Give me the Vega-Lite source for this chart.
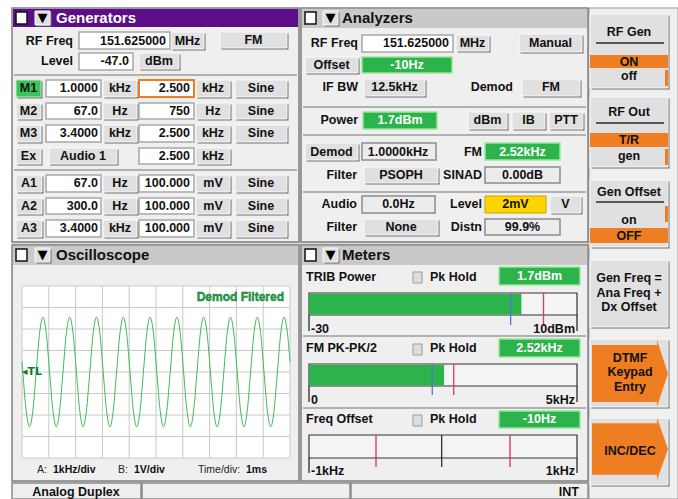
{
  "$schema": "https://vega.github.io/schema/vega-lite/v6.json",
  "width": 678,
  "height": 499,
  "padding": 0,
  "autosize": {"type": "none"},
  "background": "#ffffff",
  "config": {"view": {"stroke": null}, "text": {"font": "Liberation Sans"}},
  "datasets": {
    "boxes": [
      {"type": "back", "x": 12, "x2": 589, "y": 8, "y2": 499},
      {"type": "softbg", "x": 589, "x2": 678, "y": 8, "y2": 499},
      {"type": "panel", "x": 12, "x2": 299, "y": 8, "y2": 242},
      {"type": "panel", "x": 301, "x2": 588, "y": 8, "y2": 242},
      {"type": "panel", "x": 12, "x2": 299, "y": 245, "y2": 481},
      {"type": "panel", "x": 301, "x2": 588, "y": 245, "y2": 481},
      {"type": "hdr_purple", "x": 13, "x2": 298, "y": 9, "y2": 27},
      {"type": "hdr_gray", "x": 302, "x2": 587, "y": 9, "y2": 28},
      {"type": "hdr_gray", "x": 13, "x2": 298, "y": 246, "y2": 265},
      {"type": "hdr_gray", "x": 302, "x2": 587, "y": 246, "y2": 265},
      {"type": "scope", "x": 22, "x2": 290, "y": 286, "y2": 458},
      {"type": "status", "x": 12, "x2": 141, "y": 483, "y2": 499},
      {"type": "status", "x": 142, "x2": 350, "y": 483, "y2": 499},
      {"type": "status", "x": 351, "x2": 588, "y": 483, "y2": 499},
      {"type": "chk", "x": 16, "x2": 27, "y": 12, "y2": 24},
      {"type": "chk", "x": 305, "x2": 316, "y": 12, "y2": 24},
      {"type": "chk", "x": 16, "x2": 27, "y": 249, "y2": 261},
      {"type": "chk", "x": 305, "x2": 316, "y": 249, "y2": 261},
      {"type": "tribox", "x": 35, "x2": 50, "y": 11, "y2": 25},
      {"type": "tribox", "x": 323, "x2": 338, "y": 11, "y2": 25},
      {"type": "tribox", "x": 35, "x2": 50, "y": 248, "y2": 262},
      {"type": "tribox", "x": 323, "x2": 338, "y": 248, "y2": 262},
      {"type": "input", "x": 79, "x2": 170, "y": 32, "y2": 49},
      {"type": "input", "x": 79, "x2": 133, "y": 53, "y2": 70},
      {"type": "btn", "x": 171, "x2": 204, "y": 32, "y2": 49},
      {"type": "btn", "x": 220, "x2": 287, "y": 32, "y2": 48},
      {"type": "btn", "x": 139, "x2": 179, "y": 53, "y2": 69},
      {"type": "greenbtn", "x": 16, "x2": 41, "y": 80, "y2": 97},
      {"type": "input", "x": 46, "x2": 101, "y": 80, "y2": 97},
      {"type": "btn", "x": 103, "x2": 137, "y": 80, "y2": 97},
      {"type": "orange_in", "x": 139, "x2": 194, "y": 80, "y2": 97},
      {"type": "btn", "x": 196, "x2": 230, "y": 80, "y2": 97},
      {"type": "btn", "x": 235, "x2": 287, "y": 80, "y2": 97},
      {"type": "btn", "x": 16, "x2": 41, "y": 103, "y2": 119},
      {"type": "input", "x": 46, "x2": 101, "y": 103, "y2": 119},
      {"type": "btn", "x": 103, "x2": 137, "y": 103, "y2": 119},
      {"type": "input", "x": 139, "x2": 194, "y": 103, "y2": 119},
      {"type": "btn", "x": 196, "x2": 230, "y": 103, "y2": 119},
      {"type": "btn", "x": 235, "x2": 287, "y": 103, "y2": 119},
      {"type": "btn", "x": 16, "x2": 41, "y": 125, "y2": 142},
      {"type": "input", "x": 46, "x2": 101, "y": 125, "y2": 142},
      {"type": "btn", "x": 103, "x2": 137, "y": 125, "y2": 142},
      {"type": "input", "x": 139, "x2": 194, "y": 125, "y2": 142},
      {"type": "btn", "x": 196, "x2": 230, "y": 125, "y2": 142},
      {"type": "btn", "x": 235, "x2": 287, "y": 125, "y2": 142},
      {"type": "btn", "x": 16, "x2": 41, "y": 148, "y2": 164},
      {"type": "btn", "x": 49, "x2": 117, "y": 148, "y2": 164},
      {"type": "input", "x": 139, "x2": 194, "y": 148, "y2": 164},
      {"type": "btn", "x": 196, "x2": 230, "y": 148, "y2": 164},
      {"type": "btn", "x": 16, "x2": 42, "y": 175, "y2": 192},
      {"type": "input", "x": 46, "x2": 101, "y": 175, "y2": 192},
      {"type": "btn", "x": 103, "x2": 137, "y": 175, "y2": 192},
      {"type": "input", "x": 139, "x2": 194, "y": 175, "y2": 192},
      {"type": "btn", "x": 196, "x2": 230, "y": 175, "y2": 192},
      {"type": "btn", "x": 235, "x2": 287, "y": 175, "y2": 192},
      {"type": "btn", "x": 16, "x2": 42, "y": 198, "y2": 214},
      {"type": "input", "x": 46, "x2": 101, "y": 198, "y2": 214},
      {"type": "btn", "x": 103, "x2": 137, "y": 198, "y2": 214},
      {"type": "input", "x": 139, "x2": 194, "y": 198, "y2": 214},
      {"type": "btn", "x": 196, "x2": 230, "y": 198, "y2": 214},
      {"type": "btn", "x": 235, "x2": 287, "y": 198, "y2": 214},
      {"type": "btn", "x": 16, "x2": 42, "y": 220, "y2": 237},
      {"type": "input", "x": 46, "x2": 101, "y": 220, "y2": 237},
      {"type": "btn", "x": 103, "x2": 137, "y": 220, "y2": 237},
      {"type": "input", "x": 139, "x2": 194, "y": 220, "y2": 237},
      {"type": "btn", "x": 196, "x2": 230, "y": 220, "y2": 237},
      {"type": "btn", "x": 235, "x2": 287, "y": 220, "y2": 237},
      {"type": "input", "x": 362, "x2": 453, "y": 35, "y2": 52},
      {"type": "btn", "x": 456, "x2": 489, "y": 35, "y2": 51},
      {"type": "btn", "x": 519, "x2": 582, "y": 34, "y2": 52},
      {"type": "btn", "x": 305, "x2": 358, "y": 57, "y2": 73},
      {"type": "green", "x": 362, "x2": 452, "y": 57, "y2": 73},
      {"type": "btn", "x": 364, "x2": 425, "y": 79, "y2": 96},
      {"type": "btn", "x": 522, "x2": 580, "y": 79, "y2": 96},
      {"type": "green", "x": 363, "x2": 437, "y": 112, "y2": 129},
      {"type": "btn", "x": 468, "x2": 507, "y": 112, "y2": 129},
      {"type": "btn", "x": 512, "x2": 545, "y": 112, "y2": 129},
      {"type": "btn", "x": 549, "x2": 583, "y": 112, "y2": 129},
      {"type": "btn", "x": 305, "x2": 358, "y": 143, "y2": 160},
      {"type": "display", "x": 362, "x2": 436, "y": 143, "y2": 160},
      {"type": "green", "x": 485, "x2": 560, "y": 143, "y2": 160},
      {"type": "btn", "x": 364, "x2": 438, "y": 167, "y2": 183},
      {"type": "display", "x": 485, "x2": 560, "y": 167, "y2": 183},
      {"type": "display", "x": 362, "x2": 435, "y": 196, "y2": 213},
      {"type": "yellow", "x": 485, "x2": 546, "y": 196, "y2": 213},
      {"type": "btn", "x": 550, "x2": 581, "y": 196, "y2": 213},
      {"type": "btn", "x": 364, "x2": 438, "y": 219, "y2": 235},
      {"type": "display", "x": 485, "x2": 560, "y": 219, "y2": 235},
      {"type": "green", "x": 499, "x2": 580, "y": 267, "y2": 285},
      {"type": "green", "x": 499, "x2": 580, "y": 339, "y2": 357},
      {"type": "green", "x": 499, "x2": 580, "y": 411, "y2": 428},
      {"type": "pk", "x": 413, "x2": 422, "y": 272, "y2": 283},
      {"type": "pk", "x": 413, "x2": 422, "y": 344, "y2": 355},
      {"type": "pk", "x": 413, "x2": 422, "y": 415, "y2": 426},
      {"type": "meterbox", "x": 309, "x2": 577, "y": 293, "y2": 315},
      {"type": "meterbox", "x": 309, "x2": 577, "y": 364, "y2": 386},
      {"type": "meterbox", "x": 309, "x2": 577, "y": 435, "y2": 458},
      {"type": "skey", "x": 590, "x2": 668, "y": 14, "y2": 88},
      {"type": "skey", "x": 590, "x2": 668, "y": 97, "y2": 167},
      {"type": "skey", "x": 590, "x2": 668, "y": 180, "y2": 247},
      {"type": "skey", "x": 590, "x2": 668, "y": 260, "y2": 327},
      {"type": "skey", "x": 590, "x2": 668, "y": 339, "y2": 407},
      {"type": "skey", "x": 590, "x2": 668, "y": 418, "y2": 485},
      {"type": "band", "x": 590, "x2": 668, "y": 55, "y2": 68},
      {"type": "band", "x": 590, "x2": 668, "y": 133, "y2": 147},
      {"type": "band", "x": 590, "x2": 668, "y": 228, "y2": 243},
      {"type": "band", "x": 665, "x2": 668, "y": 70, "y2": 86},
      {"type": "band", "x": 665, "x2": 668, "y": 149, "y2": 165},
      {"type": "band", "x": 665, "x2": 668, "y": 206, "y2": 222}
    ],
    "arrows": [
      {"id": "dtmf", "x": 630, "y": 373.5},
      {"id": "inc", "x": 630, "y": 449}
    ],
    "rules": [
      {"type": "sep", "x": 14, "x2": 297, "y": 75, "y2": 75},
      {"type": "sep", "x": 14, "x2": 297, "y": 170, "y2": 170},
      {"type": "sep", "x": 303, "x2": 586, "y": 107, "y2": 107},
      {"type": "sep", "x": 303, "x2": 586, "y": 135, "y2": 135},
      {"type": "sep", "x": 303, "x2": 586, "y": 192, "y2": 192},
      {"type": "sep", "x": 303, "x2": 586, "y": 336, "y2": 336},
      {"type": "sep", "x": 303, "x2": 586, "y": 408, "y2": 408},
      {"type": "dark", "x": 596, "x2": 664, "y": 43, "y2": 43},
      {"type": "dark", "x": 596, "x2": 664, "y": 123, "y2": 123},
      {"type": "dark", "x": 596, "x2": 664, "y": 202, "y2": 202},
      {"type": "dark", "x": 309, "x2": 309, "y": 315, "y2": 331},
      {"type": "dark", "x": 577, "x2": 577, "y": 315, "y2": 331},
      {"type": "dark", "x": 309, "x2": 309, "y": 386, "y2": 402},
      {"type": "dark", "x": 577, "x2": 577, "y": 386, "y2": 402},
      {"type": "dark", "x": 309, "x2": 309, "y": 458, "y2": 473},
      {"type": "dark", "x": 577, "x2": 577, "y": 458, "y2": 473}
    ],
    "texts": [
      {"role": "title_w", "x": 56, "y": 18, "text": "Generators"},
      {"role": "title", "x": 342, "y": 18, "text": "Analyzers"},
      {"role": "title", "x": 56, "y": 255, "text": "Oscilloscope"},
      {"role": "title", "x": 342, "y": 255, "text": "Meters"},
      {"role": "tri", "x": 42.5, "y": 18, "text": "▼"},
      {"role": "tri", "x": 330.5, "y": 18, "text": "▼"},
      {"role": "tri", "x": 42.5, "y": 255, "text": "▼"},
      {"role": "tri", "x": 330.5, "y": 255, "text": "▼"},
      {"role": "lbl", "x": 73, "y": 41, "text": "RF Freq"},
      {"role": "lbl", "x": 73, "y": 61, "text": "Level"},
      {"role": "val", "x": 166, "y": 41, "text": "151.625000"},
      {"role": "val", "x": 129, "y": 61, "text": "-47.0"},
      {"role": "val", "x": 98, "y": 88, "text": "1.0000"},
      {"role": "val", "x": 190, "y": 88, "text": "2.500"},
      {"role": "val", "x": 98, "y": 111, "text": "67.0"},
      {"role": "val", "x": 190, "y": 111, "text": "750"},
      {"role": "val", "x": 98, "y": 133, "text": "3.4000"},
      {"role": "val", "x": 190, "y": 133, "text": "2.500"},
      {"role": "val", "x": 190, "y": 156, "text": "2.500"},
      {"role": "val", "x": 98, "y": 183, "text": "67.0"},
      {"role": "val", "x": 190, "y": 183, "text": "100.000"},
      {"role": "val", "x": 98, "y": 206, "text": "300.0"},
      {"role": "val", "x": 190, "y": 206, "text": "100.000"},
      {"role": "val", "x": 98, "y": 228, "text": "3.4000"},
      {"role": "val", "x": 190, "y": 228, "text": "100.000"},
      {"role": "ctr", "x": 187.5, "y": 41, "text": "MHz"},
      {"role": "ctr", "x": 253.5, "y": 40, "text": "FM"},
      {"role": "ctr", "x": 159, "y": 61, "text": "dBm"},
      {"role": "ctr", "x": 28.5, "y": 88, "text": "M1"},
      {"role": "ctr", "x": 120, "y": 88, "text": "kHz"},
      {"role": "ctr", "x": 213, "y": 88, "text": "kHz"},
      {"role": "ctr", "x": 261, "y": 88, "text": "Sine"},
      {"role": "ctr", "x": 28.5, "y": 111, "text": "M2"},
      {"role": "ctr", "x": 120, "y": 111, "text": "Hz"},
      {"role": "ctr", "x": 213, "y": 111, "text": "Hz"},
      {"role": "ctr", "x": 261, "y": 111, "text": "Sine"},
      {"role": "ctr", "x": 28.5, "y": 133, "text": "M3"},
      {"role": "ctr", "x": 120, "y": 133, "text": "kHz"},
      {"role": "ctr", "x": 213, "y": 133, "text": "kHz"},
      {"role": "ctr", "x": 261, "y": 133, "text": "Sine"},
      {"role": "ctr", "x": 28.5, "y": 156, "text": "Ex"},
      {"role": "ctr", "x": 83, "y": 156, "text": "Audio 1"},
      {"role": "ctr", "x": 213, "y": 156, "text": "kHz"},
      {"role": "ctr", "x": 29, "y": 183, "text": "A1"},
      {"role": "ctr", "x": 120, "y": 183, "text": "Hz"},
      {"role": "ctr", "x": 213, "y": 183, "text": "mV"},
      {"role": "ctr", "x": 261, "y": 183, "text": "Sine"},
      {"role": "ctr", "x": 29, "y": 206, "text": "A2"},
      {"role": "ctr", "x": 120, "y": 206, "text": "Hz"},
      {"role": "ctr", "x": 213, "y": 206, "text": "mV"},
      {"role": "ctr", "x": 261, "y": 206, "text": "Sine"},
      {"role": "ctr", "x": 29, "y": 228, "text": "A3"},
      {"role": "ctr", "x": 120, "y": 228, "text": "kHz"},
      {"role": "ctr", "x": 213, "y": 228, "text": "mV"},
      {"role": "ctr", "x": 261, "y": 228, "text": "Sine"},
      {"role": "lbl", "x": 358, "y": 43, "text": "RF Freq"},
      {"role": "lbl", "x": 358, "y": 87, "text": "IF BW"},
      {"role": "lbl", "x": 513, "y": 87, "text": "Demod"},
      {"role": "lbl", "x": 358, "y": 120, "text": "Power"},
      {"role": "lbl", "x": 482, "y": 152, "text": "FM"},
      {"role": "lbl", "x": 357, "y": 175, "text": "Filter"},
      {"role": "lbl", "x": 482, "y": 175, "text": "SINAD"},
      {"role": "lbl", "x": 357, "y": 204, "text": "Audio"},
      {"role": "lbl", "x": 482, "y": 204, "text": "Level"},
      {"role": "lbl", "x": 357, "y": 227, "text": "Filter"},
      {"role": "lbl", "x": 482, "y": 227, "text": "Distn"},
      {"role": "val", "x": 449, "y": 43, "text": "151.625000"},
      {"role": "ctr", "x": 472.5, "y": 43, "text": "MHz"},
      {"role": "ctr", "x": 550.5, "y": 43, "text": "Manual"},
      {"role": "ctr", "x": 331.5, "y": 65, "text": "Offset"},
      {"role": "ctr", "x": 394.5, "y": 87, "text": "12.5kHz"},
      {"role": "ctr", "x": 551, "y": 87, "text": "FM"},
      {"role": "ctr", "x": 487.5, "y": 120, "text": "dBm"},
      {"role": "ctr", "x": 528.5, "y": 120, "text": "IB"},
      {"role": "ctr", "x": 566, "y": 120, "text": "PTT"},
      {"role": "ctr", "x": 331.5, "y": 152, "text": "Demod"},
      {"role": "ctr", "x": 398, "y": 152, "text": "1.0000kHz"},
      {"role": "ctr", "x": 401, "y": 175, "text": "PSOPH"},
      {"role": "ctr", "x": 522.5, "y": 175, "text": "0.00dB"},
      {"role": "ctr", "x": 398.5, "y": 204, "text": "0.0Hz"},
      {"role": "ctr", "x": 515.5, "y": 204, "text": "2mV"},
      {"role": "ctr", "x": 565.5, "y": 204, "text": "V"},
      {"role": "ctr", "x": 401, "y": 227, "text": "None"},
      {"role": "ctr", "x": 522.5, "y": 227, "text": "99.9%"},
      {"role": "ctr_w", "x": 407, "y": 65, "text": "-10Hz"},
      {"role": "ctr_w", "x": 400, "y": 120, "text": "1.7dBm"},
      {"role": "ctr_w", "x": 522.5, "y": 152, "text": "2.52kHz"},
      {"role": "left", "x": 306, "y": 277, "text": "TRIB Power"},
      {"role": "left", "x": 430, "y": 277, "text": "Pk Hold"},
      {"role": "left", "x": 306, "y": 348, "text": "FM PK-PK/2"},
      {"role": "left", "x": 430, "y": 348, "text": "Pk Hold"},
      {"role": "left", "x": 306, "y": 419, "text": "Freq Offset"},
      {"role": "left", "x": 430, "y": 419, "text": "Pk Hold"},
      {"role": "left", "x": 311, "y": 329, "text": "-30"},
      {"role": "left", "x": 311, "y": 400, "text": "0"},
      {"role": "left", "x": 311, "y": 471, "text": "-1kHz"},
      {"role": "val", "x": 575, "y": 329, "text": "10dBm"},
      {"role": "val", "x": 575, "y": 400, "text": "5kHz"},
      {"role": "val", "x": 575, "y": 471, "text": "1kHz"},
      {"role": "ctr_w", "x": 539.5, "y": 276, "text": "1.7dBm"},
      {"role": "ctr_w", "x": 539.5, "y": 348, "text": "2.52kHz"},
      {"role": "ctr_w", "x": 539.5, "y": 419, "text": "-10Hz"},
      {"role": "demod", "x": 284, "y": 297, "text": "Demod Filtered"},
      {"role": "tl", "x": 22, "y": 372, "text": "◂TL"},
      {"role": "small", "x": 37, "y": 470, "text": "A:"},
      {"role": "small", "x": 118, "y": 470, "text": "B:"},
      {"role": "small", "x": 198, "y": 470, "text": "Time/div:"},
      {"role": "small_b", "x": 53, "y": 470, "text": "1kHz/div"},
      {"role": "small_b", "x": 134, "y": 470, "text": "1V/div"},
      {"role": "small_b", "x": 246, "y": 470, "text": "1ms"},
      {"role": "ctr", "x": 76, "y": 492, "text": "Analog Duplex"},
      {"role": "val", "x": 579, "y": 492, "text": "INT"},
      {"role": "soft", "x": 629, "y": 32, "text": "RF Gen"},
      {"role": "soft", "x": 629, "y": 61.5, "text": "ON"},
      {"role": "soft", "x": 629, "y": 76, "text": "off"},
      {"role": "soft", "x": 629, "y": 112, "text": "RF Out"},
      {"role": "soft", "x": 629, "y": 140, "text": "T/R"},
      {"role": "soft", "x": 629, "y": 156, "text": "gen"},
      {"role": "soft", "x": 629, "y": 192, "text": "Gen Offset"},
      {"role": "soft", "x": 629, "y": 220, "text": "on"},
      {"role": "soft", "x": 629, "y": 235.5, "text": "OFF"},
      {"role": "soft", "x": 629, "y": 278, "text": "Gen Freq ="},
      {"role": "soft", "x": 629, "y": 293, "text": "Ana Freq +"},
      {"role": "soft", "x": 629, "y": 307, "text": "Dx Offset"},
      {"role": "soft", "x": 630, "y": 358, "text": "DTMF"},
      {"role": "soft", "x": 630, "y": 372, "text": "Keypad"},
      {"role": "soft", "x": 630, "y": 387, "text": "Entry"},
      {"role": "soft", "x": 630, "y": 451, "text": "INC/DEC"}
    ],
    "wave": [
      {"t": 0, "v": 0.48},
      {"t": 0.03, "v": 0}, {"t": 0.155, "v": -1.8}, {"t": 0.28, "v": -2.55}, {"t": 0.405, "v": -1.8}, {"t": 0.53, "v": 0}, {"t": 0.655, "v": 1.8}, {"t": 0.78, "v": 2.55}, {"t": 0.905, "v": 1.8},
      {"t": 1.03, "v": 0}, {"t": 1.155, "v": -1.8}, {"t": 1.28, "v": -2.55}, {"t": 1.405, "v": -1.8}, {"t": 1.53, "v": 0}, {"t": 1.655, "v": 1.8}, {"t": 1.78, "v": 2.55}, {"t": 1.905, "v": 1.8},
      {"t": 2.03, "v": 0}, {"t": 2.155, "v": -1.8}, {"t": 2.28, "v": -2.55}, {"t": 2.405, "v": -1.8}, {"t": 2.53, "v": 0}, {"t": 2.655, "v": 1.8}, {"t": 2.78, "v": 2.55}, {"t": 2.905, "v": 1.8},
      {"t": 3.03, "v": 0}, {"t": 3.155, "v": -1.8}, {"t": 3.28, "v": -2.55}, {"t": 3.405, "v": -1.8}, {"t": 3.53, "v": 0}, {"t": 3.655, "v": 1.8}, {"t": 3.78, "v": 2.55}, {"t": 3.905, "v": 1.8},
      {"t": 4.03, "v": 0}, {"t": 4.155, "v": -1.8}, {"t": 4.28, "v": -2.55}, {"t": 4.405, "v": -1.8}, {"t": 4.53, "v": 0}, {"t": 4.655, "v": 1.8}, {"t": 4.78, "v": 2.55}, {"t": 4.905, "v": 1.8},
      {"t": 5.03, "v": 0}, {"t": 5.155, "v": -1.8}, {"t": 5.28, "v": -2.55}, {"t": 5.405, "v": -1.8}, {"t": 5.53, "v": 0}, {"t": 5.655, "v": 1.8}, {"t": 5.78, "v": 2.55}, {"t": 5.905, "v": 1.8},
      {"t": 6.03, "v": 0}, {"t": 6.155, "v": -1.8}, {"t": 6.28, "v": -2.55}, {"t": 6.405, "v": -1.8}, {"t": 6.53, "v": 0}, {"t": 6.655, "v": 1.8}, {"t": 6.78, "v": 2.55}, {"t": 6.905, "v": 1.8},
      {"t": 7.03, "v": 0}, {"t": 7.155, "v": -1.8}, {"t": 7.28, "v": -2.55}, {"t": 7.405, "v": -1.8}, {"t": 7.53, "v": 0}, {"t": 7.655, "v": 1.8}, {"t": 7.78, "v": 2.55}, {"t": 7.905, "v": 1.8},
      {"t": 8.03, "v": 0}, {"t": 8.155, "v": -1.8}, {"t": 8.28, "v": -2.55}, {"t": 8.405, "v": -1.8}, {"t": 8.53, "v": 0}, {"t": 8.655, "v": 1.8}, {"t": 8.78, "v": 2.55}, {"t": 8.905, "v": 1.8},
      {"t": 9.03, "v": 0}, {"t": 9.155, "v": -1.8}, {"t": 9.28, "v": -2.55}, {"t": 9.405, "v": -1.8}, {"t": 9.53, "v": 0}, {"t": 9.655, "v": 1.8}, {"t": 9.78, "v": 2.55}, {"t": 9.905, "v": 1.8},
      {"t": 10, "v": 0.48}
    ],
    "grid_t": [{"t": 0, "lo": -4, "hi": 4}, {"t": 1, "lo": -4, "hi": 4}, {"t": 2, "lo": -4, "hi": 4}, {"t": 3, "lo": -4, "hi": 4}, {"t": 4, "lo": -4, "hi": 4}, {"t": 5, "lo": -4, "hi": 4}, {"t": 6, "lo": -4, "hi": 4}, {"t": 7, "lo": -4, "hi": 4}, {"t": 8, "lo": -4, "hi": 4}, {"t": 9, "lo": -4, "hi": 4}, {"t": 10, "lo": -4, "hi": 4}],
    "grid_v": [{"v": -4, "t0": 0, "t1": 10}, {"v": -3, "t0": 0, "t1": 10}, {"v": -2, "t0": 0, "t1": 10}, {"v": -1, "t0": 0, "t1": 10}, {"v": 0, "t0": 0, "t1": 10}, {"v": 1, "t0": 0, "t1": 10}, {"v": 2, "t0": 0, "t1": 10}, {"v": 3, "t0": 0, "t1": 10}, {"v": 4, "t0": 0, "t1": 10}],
    "meters": [
      {"meter": "TRIB Power", "kind": "bar", "lo": -30, "v": 1.7},
      {"meter": "TRIB Power", "kind": "ref", "v": 0.1},
      {"meter": "TRIB Power", "kind": "limit", "v": 5},
      {"meter": "FM PK-PK/2", "kind": "bar", "lo": 0, "v": 2.52},
      {"meter": "FM PK-PK/2", "kind": "ref", "v": 2.3},
      {"meter": "FM PK-PK/2", "kind": "limit", "v": 2.7},
      {"meter": "Freq Offset", "kind": "limit", "v": -0.5},
      {"meter": "Freq Offset", "kind": "limit", "v": 0.5},
      {"meter": "Freq Offset", "kind": "ref0", "v": -0.01}
    ]
  },
  "resolve": {"scale": {"x": "independent", "y": "independent", "color": "independent", "shape": "independent"}},
  "layer": [
    {"data": {"name": "boxes"}, "transform": [{"filter": "datum.type === 'back'"}], "mark": {"type": "rect", "fill": "#d9d9d9"},
     "encoding": {"x": {"field": "x", "type": "quantitative", "scale": {"domain": [0, 678], "range": [0, 678], "nice": false, "zero": false}, "axis": null}, "x2": {"field": "x2"}, "y": {"field": "y", "type": "quantitative", "scale": {"domain": [0, 499], "range": [0, 499], "nice": false, "zero": false}, "axis": null}, "y2": {"field": "y2"}}},
    {"data": {"name": "boxes"}, "transform": [{"filter": "datum.type === 'softbg'"}], "mark": {"type": "rect", "fill": "#efefef", "stroke": "#9a9a9a", "strokeWidth": 1},
     "encoding": {"x": {"field": "x", "type": "quantitative", "scale": {"domain": [0, 678], "range": [0, 678], "nice": false, "zero": false}, "axis": null}, "x2": {"field": "x2"}, "y": {"field": "y", "type": "quantitative", "scale": {"domain": [0, 499], "range": [0, 499], "nice": false, "zero": false}, "axis": null}, "y2": {"field": "y2"}}},
    {"data": {"name": "boxes"}, "transform": [{"filter": "datum.type === 'panel'"}], "mark": {"type": "rect", "fill": "#efefef", "stroke": "#808080", "strokeWidth": 1.5},
     "encoding": {"x": {"field": "x", "type": "quantitative", "scale": {"domain": [0, 678], "range": [0, 678], "nice": false, "zero": false}, "axis": null}, "x2": {"field": "x2"}, "y": {"field": "y", "type": "quantitative", "scale": {"domain": [0, 499], "range": [0, 499], "nice": false, "zero": false}, "axis": null}, "y2": {"field": "y2"}}},
    {"data": {"name": "boxes"}, "transform": [{"filter": "datum.type === 'hdr_purple'"}], "mark": {"type": "rect", "fill": "#5c0e88"},
     "encoding": {"x": {"field": "x", "type": "quantitative", "scale": {"domain": [0, 678], "range": [0, 678], "nice": false, "zero": false}, "axis": null}, "x2": {"field": "x2"}, "y": {"field": "y", "type": "quantitative", "scale": {"domain": [0, 499], "range": [0, 499], "nice": false, "zero": false}, "axis": null}, "y2": {"field": "y2"}}},
    {"data": {"name": "boxes"}, "transform": [{"filter": "datum.type === 'hdr_gray'"}], "mark": {"type": "rect", "fill": "#c9c9c9"},
     "encoding": {"x": {"field": "x", "type": "quantitative", "scale": {"domain": [0, 678], "range": [0, 678], "nice": false, "zero": false}, "axis": null}, "x2": {"field": "x2"}, "y": {"field": "y", "type": "quantitative", "scale": {"domain": [0, 499], "range": [0, 499], "nice": false, "zero": false}, "axis": null}, "y2": {"field": "y2"}}},
    {"data": {"name": "boxes"}, "transform": [{"filter": "datum.type === 'scope'"}], "mark": {"type": "rect", "fill": "#ffffff"},
     "encoding": {"x": {"field": "x", "type": "quantitative", "scale": {"domain": [0, 678], "range": [0, 678], "nice": false, "zero": false}, "axis": null}, "x2": {"field": "x2"}, "y": {"field": "y", "type": "quantitative", "scale": {"domain": [0, 499], "range": [0, 499], "nice": false, "zero": false}, "axis": null}, "y2": {"field": "y2"}}},
    {"data": {"name": "boxes"}, "transform": [{"filter": "datum.type === 'status'"}], "mark": {"type": "rect", "fill": "#efefef", "stroke": "#8a8a8a", "strokeWidth": 1.5},
     "encoding": {"x": {"field": "x", "type": "quantitative", "scale": {"domain": [0, 678], "range": [0, 678], "nice": false, "zero": false}, "axis": null}, "x2": {"field": "x2"}, "y": {"field": "y", "type": "quantitative", "scale": {"domain": [0, 499], "range": [0, 499], "nice": false, "zero": false}, "axis": null}, "y2": {"field": "y2"}}},
    {"data": {"name": "boxes"}, "transform": [{"filter": {"field": "type", "oneOf": ["btn", "greenbtn", "skey", "tribox"]}}], "mark": {"type": "rect", "fill": "#707070", "xOffset": 1.5, "x2Offset": 1.5, "yOffset": 1.5, "y2Offset": 1.5},
     "encoding": {"x": {"field": "x", "type": "quantitative", "scale": {"domain": [0, 678], "range": [0, 678], "nice": false, "zero": false}, "axis": null}, "x2": {"field": "x2"}, "y": {"field": "y", "type": "quantitative", "scale": {"domain": [0, 499], "range": [0, 499], "nice": false, "zero": false}, "axis": null}, "y2": {"field": "y2"}}},
    {"data": {"name": "boxes"}, "transform": [{"filter": {"field": "type", "oneOf": ["btn", "skey", "tribox"]}}], "mark": {"type": "rect", "fill": "#e0e0e0", "stroke": "#fafafa", "strokeWidth": 1},
     "encoding": {"x": {"field": "x", "type": "quantitative", "scale": {"domain": [0, 678], "range": [0, 678], "nice": false, "zero": false}, "axis": null}, "x2": {"field": "x2"}, "y": {"field": "y", "type": "quantitative", "scale": {"domain": [0, 499], "range": [0, 499], "nice": false, "zero": false}, "axis": null}, "y2": {"field": "y2"}}},
    {"data": {"name": "boxes"}, "transform": [{"filter": "datum.type === 'greenbtn'"}], "mark": {"type": "rect", "fill": "#3cc45c", "stroke": "#b6f0b6", "strokeWidth": 1},
     "encoding": {"x": {"field": "x", "type": "quantitative", "scale": {"domain": [0, 678], "range": [0, 678], "nice": false, "zero": false}, "axis": null}, "x2": {"field": "x2"}, "y": {"field": "y", "type": "quantitative", "scale": {"domain": [0, 499], "range": [0, 499], "nice": false, "zero": false}, "axis": null}, "y2": {"field": "y2"}}},
    {"data": {"name": "boxes"}, "transform": [{"filter": "datum.type === 'band'"}], "mark": {"type": "rect", "fill": "#ef7d22"},
     "encoding": {"x": {"field": "x", "type": "quantitative", "scale": {"domain": [0, 678], "range": [0, 678], "nice": false, "zero": false}, "axis": null}, "x2": {"field": "x2"}, "y": {"field": "y", "type": "quantitative", "scale": {"domain": [0, 499], "range": [0, 499], "nice": false, "zero": false}, "axis": null}, "y2": {"field": "y2"}}},
    {"data": {"name": "arrows"}, "mark": {"type": "point", "filled": true, "fill": "#ef7d22", "size": 5776, "opacity": 1, "strokeWidth": 0},
     "encoding": {"x": {"field": "x", "type": "quantitative", "scale": {"domain": [0, 678], "range": [0, 678], "nice": false, "zero": false}, "axis": null}, "y": {"field": "y", "type": "quantitative", "scale": {"domain": [0, 499], "range": [0, 499], "nice": false, "zero": false}, "axis": null}, "shape": {"field": "id", "type": "nominal", "scale": {"domain": ["dtmf", "inc"], "range": ["M-1,-0.75L0.71,-0.75L0.71,-0.88L1,0L0.71,0.88L0.71,0.75L-1,0.75Z", "M-1,-0.68L0.71,-0.68L0.71,-0.82L1,0L0.71,0.82L0.71,0.68L-1,0.68Z"]}, "legend": null}}},
    {"data": {"name": "boxes"}, "transform": [{"filter": "datum.type === 'input'"}], "mark": {"type": "rect", "fill": "#ffffff", "stroke": "#a8a8a8", "strokeWidth": 1.5},
     "encoding": {"x": {"field": "x", "type": "quantitative", "scale": {"domain": [0, 678], "range": [0, 678], "nice": false, "zero": false}, "axis": null}, "x2": {"field": "x2"}, "y": {"field": "y", "type": "quantitative", "scale": {"domain": [0, 499], "range": [0, 499], "nice": false, "zero": false}, "axis": null}, "y2": {"field": "y2"}}},
    {"data": {"name": "boxes"}, "transform": [{"filter": "datum.type === 'orange_in'"}], "mark": {"type": "rect", "fill": "#ffffff", "stroke": "#ee7d22", "strokeWidth": 2},
     "encoding": {"x": {"field": "x", "type": "quantitative", "scale": {"domain": [0, 678], "range": [0, 678], "nice": false, "zero": false}, "axis": null}, "x2": {"field": "x2"}, "y": {"field": "y", "type": "quantitative", "scale": {"domain": [0, 499], "range": [0, 499], "nice": false, "zero": false}, "axis": null}, "y2": {"field": "y2"}}},
    {"data": {"name": "boxes"}, "transform": [{"filter": "datum.type === 'display'"}], "mark": {"type": "rect", "fill": "#ececec", "stroke": "#8c8c8c", "strokeWidth": 1.5},
     "encoding": {"x": {"field": "x", "type": "quantitative", "scale": {"domain": [0, 678], "range": [0, 678], "nice": false, "zero": false}, "axis": null}, "x2": {"field": "x2"}, "y": {"field": "y", "type": "quantitative", "scale": {"domain": [0, 499], "range": [0, 499], "nice": false, "zero": false}, "axis": null}, "y2": {"field": "y2"}}},
    {"data": {"name": "boxes"}, "transform": [{"filter": "datum.type === 'green'"}], "mark": {"type": "rect", "fill": "#2db34b", "stroke": "#9be79b", "strokeWidth": 1.5},
     "encoding": {"x": {"field": "x", "type": "quantitative", "scale": {"domain": [0, 678], "range": [0, 678], "nice": false, "zero": false}, "axis": null}, "x2": {"field": "x2"}, "y": {"field": "y", "type": "quantitative", "scale": {"domain": [0, 499], "range": [0, 499], "nice": false, "zero": false}, "axis": null}, "y2": {"field": "y2"}}},
    {"data": {"name": "boxes"}, "transform": [{"filter": "datum.type === 'yellow'"}], "mark": {"type": "rect", "fill": "#ffd400", "stroke": "#c9a600", "strokeWidth": 1},
     "encoding": {"x": {"field": "x", "type": "quantitative", "scale": {"domain": [0, 678], "range": [0, 678], "nice": false, "zero": false}, "axis": null}, "x2": {"field": "x2"}, "y": {"field": "y", "type": "quantitative", "scale": {"domain": [0, 499], "range": [0, 499], "nice": false, "zero": false}, "axis": null}, "y2": {"field": "y2"}}},
    {"data": {"name": "boxes"}, "transform": [{"filter": "datum.type === 'chk'"}], "mark": {"type": "rect", "fill": "#ffffff", "stroke": "#111111", "strokeWidth": 1.5},
     "encoding": {"x": {"field": "x", "type": "quantitative", "scale": {"domain": [0, 678], "range": [0, 678], "nice": false, "zero": false}, "axis": null}, "x2": {"field": "x2"}, "y": {"field": "y", "type": "quantitative", "scale": {"domain": [0, 499], "range": [0, 499], "nice": false, "zero": false}, "axis": null}, "y2": {"field": "y2"}}},
    {"data": {"name": "boxes"}, "transform": [{"filter": "datum.type === 'pk'"}], "mark": {"type": "rect", "fill": "#dddddd", "stroke": "#9a9a9a", "strokeWidth": 1},
     "encoding": {"x": {"field": "x", "type": "quantitative", "scale": {"domain": [0, 678], "range": [0, 678], "nice": false, "zero": false}, "axis": null}, "x2": {"field": "x2"}, "y": {"field": "y", "type": "quantitative", "scale": {"domain": [0, 499], "range": [0, 499], "nice": false, "zero": false}, "axis": null}, "y2": {"field": "y2"}}},
    {"data": {"name": "boxes"}, "transform": [{"filter": "datum.type === 'meterbox'"}], "mark": {"type": "rect", "fill": "#f4f4f4", "stroke": "#333333", "strokeWidth": 1.2},
     "encoding": {"x": {"field": "x", "type": "quantitative", "scale": {"domain": [0, 678], "range": [0, 678], "nice": false, "zero": false}, "axis": null}, "x2": {"field": "x2"}, "y": {"field": "y", "type": "quantitative", "scale": {"domain": [0, 499], "range": [0, 499], "nice": false, "zero": false}, "axis": null}, "y2": {"field": "y2"}}},
    {"data": {"name": "rules"}, "transform": [{"filter": "datum.type === 'sep'"}], "mark": {"type": "rule", "stroke": "#9c9c9c", "strokeWidth": 1.5},
     "encoding": {"x": {"field": "x", "type": "quantitative", "scale": {"domain": [0, 678], "range": [0, 678], "nice": false, "zero": false}, "axis": null}, "x2": {"field": "x2"}, "y": {"field": "y", "type": "quantitative", "scale": {"domain": [0, 499], "range": [0, 499], "nice": false, "zero": false}, "axis": null}, "y2": {"field": "y2"}}},
    {"data": {"name": "rules"}, "transform": [{"filter": "datum.type === 'dark'"}], "mark": {"type": "rule", "stroke": "#2a2a2a", "strokeWidth": 1.3},
     "encoding": {"x": {"field": "x", "type": "quantitative", "scale": {"domain": [0, 678], "range": [0, 678], "nice": false, "zero": false}, "axis": null}, "x2": {"field": "x2"}, "y": {"field": "y", "type": "quantitative", "scale": {"domain": [0, 499], "range": [0, 499], "nice": false, "zero": false}, "axis": null}, "y2": {"field": "y2"}}},
    {"data": {"name": "grid_t"}, "mark": {"type": "rule", "stroke": "#c8c8c8", "strokeWidth": 1},
     "encoding": {"x": {"field": "t", "type": "quantitative", "scale": {"domain": [0, 10], "range": [22, 290], "nice": false, "zero": false}, "axis": null}, "y": {"field": "lo", "type": "quantitative", "scale": {"domain": [-4, 4], "range": [458, 286], "nice": false, "zero": false}, "axis": null}, "y2": {"field": "hi"}}},
    {"data": {"name": "grid_v"}, "mark": {"type": "rule", "stroke": "#c8c8c8", "strokeWidth": 1},
     "encoding": {"y": {"field": "v", "type": "quantitative", "scale": {"domain": [-4, 4], "range": [458, 286], "nice": false, "zero": false}, "axis": null}, "x": {"field": "t0", "type": "quantitative", "scale": {"domain": [0, 10], "range": [22, 290], "nice": false, "zero": false}, "axis": null}, "x2": {"field": "t1"}}},
    {"data": {"name": "wave"}, "mark": {"type": "line", "stroke": "#3dbb5c", "strokeWidth": 1, "interpolate": "monotone"},
     "encoding": {"x": {"field": "t", "type": "quantitative", "scale": {"domain": [0, 10], "range": [22, 290], "nice": false, "zero": false}, "axis": null}, "y": {"field": "v", "type": "quantitative", "scale": {"domain": [-4, 4], "range": [458, 286], "nice": false, "zero": false}, "axis": null}}},
    {"data": {"name": "meters"}, "transform": [{"filter": "datum.meter === 'TRIB Power' && datum.kind === 'bar'"}], "mark": {"type": "rect", "fill": "#2db34b"},
     "encoding": {"x": {"field": "v", "type": "quantitative", "scale": {"domain": [-30, 10], "range": [309, 577], "nice": false, "zero": false}, "axis": null}, "x2": {"field": "lo"}, "y": {"field": "meter", "type": "nominal", "scale": {"domain": ["TRIB Power"], "range": [294, 314.5], "type": "band", "paddingInner": 0, "paddingOuter": 0}, "axis": null}}},
    {"data": {"name": "meters"}, "transform": [{"filter": "datum.meter === 'TRIB Power' && datum.kind !== 'bar'"}], "mark": {"type": "tick", "orient": "vertical", "thickness": 1.3, "size": 32, "opacity": 1},
     "encoding": {"x": {"field": "v", "type": "quantitative", "scale": {"domain": [-30, 10], "range": [309, 577], "nice": false, "zero": false}, "axis": null}, "y": {"field": "meter", "type": "nominal", "scale": {"domain": ["TRIB Power"], "range": [293, 325], "type": "band", "paddingInner": 0, "paddingOuter": 0}, "axis": null}, "color": {"field": "kind", "type": "nominal", "scale": {"domain": ["ref", "limit"], "range": ["#5577cc", "#e03a60"]}, "legend": null}}},
    {"data": {"name": "meters"}, "transform": [{"filter": "datum.meter === 'FM PK-PK/2' && datum.kind === 'bar'"}], "mark": {"type": "rect", "fill": "#2db34b"},
     "encoding": {"x": {"field": "v", "type": "quantitative", "scale": {"domain": [0, 5], "range": [309, 577], "nice": false, "zero": false}, "axis": null}, "x2": {"field": "lo"}, "y": {"field": "meter", "type": "nominal", "scale": {"domain": ["FM PK-PK/2"], "range": [365, 385.5], "type": "band", "paddingInner": 0, "paddingOuter": 0}, "axis": null}}},
    {"data": {"name": "meters"}, "transform": [{"filter": "datum.meter === 'FM PK-PK/2' && datum.kind !== 'bar'"}], "mark": {"type": "tick", "orient": "vertical", "thickness": 1.3, "size": 31, "opacity": 1},
     "encoding": {"x": {"field": "v", "type": "quantitative", "scale": {"domain": [0, 5], "range": [309, 577], "nice": false, "zero": false}, "axis": null}, "y": {"field": "meter", "type": "nominal", "scale": {"domain": ["FM PK-PK/2"], "range": [364, 395], "type": "band", "paddingInner": 0, "paddingOuter": 0}, "axis": null}, "color": {"field": "kind", "type": "nominal", "scale": {"domain": ["ref", "limit"], "range": ["#5577cc", "#e03a60"]}, "legend": null}}},
    {"data": {"name": "meters"}, "transform": [{"filter": "datum.meter === 'Freq Offset'"}], "mark": {"type": "tick", "orient": "vertical", "thickness": 1.3, "size": 32, "opacity": 1},
     "encoding": {"x": {"field": "v", "type": "quantitative", "scale": {"domain": [-1, 1], "range": [309, 577], "nice": false, "zero": false}, "axis": null}, "y": {"field": "meter", "type": "nominal", "scale": {"domain": ["Freq Offset"], "range": [435, 467], "type": "band", "paddingInner": 0, "paddingOuter": 0}, "axis": null}, "color": {"field": "kind", "type": "nominal", "scale": {"domain": ["limit", "ref0"], "range": ["#d8325a", "#1f3d25"]}, "legend": null}}},
    {"data": {"name": "texts"}, "transform": [{"filter": "datum.role === 'title_w'"}], "mark": {"type": "text", "align": "left", "baseline": "middle", "fontSize": 15, "fontWeight": "bold", "fill": "#ffffff"},
     "encoding": {"x": {"field": "x", "type": "quantitative", "scale": {"domain": [0, 678], "range": [0, 678], "nice": false, "zero": false}, "axis": null}, "y": {"field": "y", "type": "quantitative", "scale": {"domain": [0, 499], "range": [0, 499], "nice": false, "zero": false}, "axis": null}, "text": {"field": "text", "type": "nominal"}}},
    {"data": {"name": "texts"}, "transform": [{"filter": "datum.role === 'title'"}], "mark": {"type": "text", "align": "left", "baseline": "middle", "fontSize": 15, "fontWeight": "bold", "fill": "#111111"},
     "encoding": {"x": {"field": "x", "type": "quantitative", "scale": {"domain": [0, 678], "range": [0, 678], "nice": false, "zero": false}, "axis": null}, "y": {"field": "y", "type": "quantitative", "scale": {"domain": [0, 499], "range": [0, 499], "nice": false, "zero": false}, "axis": null}, "text": {"field": "text", "type": "nominal"}}},
    {"data": {"name": "texts"}, "transform": [{"filter": "datum.role === 'tri'"}], "mark": {"type": "text", "align": "center", "baseline": "middle", "fontSize": 13, "font": "DejaVu Sans", "fill": "#000000"},
     "encoding": {"x": {"field": "x", "type": "quantitative", "scale": {"domain": [0, 678], "range": [0, 678], "nice": false, "zero": false}, "axis": null}, "y": {"field": "y", "type": "quantitative", "scale": {"domain": [0, 499], "range": [0, 499], "nice": false, "zero": false}, "axis": null}, "text": {"field": "text", "type": "nominal"}}},
    {"data": {"name": "texts"}, "transform": [{"filter": {"field": "role", "oneOf": ["lbl", "val"]}}], "mark": {"type": "text", "align": "right", "baseline": "middle", "fontSize": 12.5, "fontWeight": "bold", "fill": "#111111"},
     "encoding": {"x": {"field": "x", "type": "quantitative", "scale": {"domain": [0, 678], "range": [0, 678], "nice": false, "zero": false}, "axis": null}, "y": {"field": "y", "type": "quantitative", "scale": {"domain": [0, 499], "range": [0, 499], "nice": false, "zero": false}, "axis": null}, "text": {"field": "text", "type": "nominal"}}},
    {"data": {"name": "texts"}, "transform": [{"filter": {"field": "role", "oneOf": ["ctr", "soft"]}}], "mark": {"type": "text", "align": "center", "baseline": "middle", "fontSize": 12.5, "fontWeight": "bold", "fill": "#111111"},
     "encoding": {"x": {"field": "x", "type": "quantitative", "scale": {"domain": [0, 678], "range": [0, 678], "nice": false, "zero": false}, "axis": null}, "y": {"field": "y", "type": "quantitative", "scale": {"domain": [0, 499], "range": [0, 499], "nice": false, "zero": false}, "axis": null}, "text": {"field": "text", "type": "nominal"}}},
    {"data": {"name": "texts"}, "transform": [{"filter": "datum.role === 'ctr_w'"}], "mark": {"type": "text", "align": "center", "baseline": "middle", "fontSize": 12.5, "fontWeight": "bold", "fill": "#ffffff"},
     "encoding": {"x": {"field": "x", "type": "quantitative", "scale": {"domain": [0, 678], "range": [0, 678], "nice": false, "zero": false}, "axis": null}, "y": {"field": "y", "type": "quantitative", "scale": {"domain": [0, 499], "range": [0, 499], "nice": false, "zero": false}, "axis": null}, "text": {"field": "text", "type": "nominal"}}},
    {"data": {"name": "texts"}, "transform": [{"filter": "datum.role === 'left'"}], "mark": {"type": "text", "align": "left", "baseline": "middle", "fontSize": 12.5, "fontWeight": "bold", "fill": "#111111"},
     "encoding": {"x": {"field": "x", "type": "quantitative", "scale": {"domain": [0, 678], "range": [0, 678], "nice": false, "zero": false}, "axis": null}, "y": {"field": "y", "type": "quantitative", "scale": {"domain": [0, 499], "range": [0, 499], "nice": false, "zero": false}, "axis": null}, "text": {"field": "text", "type": "nominal"}}},
    {"data": {"name": "texts"}, "transform": [{"filter": "datum.role === 'small'"}], "mark": {"type": "text", "align": "left", "baseline": "middle", "fontSize": 10.5, "fill": "#222222"},
     "encoding": {"x": {"field": "x", "type": "quantitative", "scale": {"domain": [0, 678], "range": [0, 678], "nice": false, "zero": false}, "axis": null}, "y": {"field": "y", "type": "quantitative", "scale": {"domain": [0, 499], "range": [0, 499], "nice": false, "zero": false}, "axis": null}, "text": {"field": "text", "type": "nominal"}}},
    {"data": {"name": "texts"}, "transform": [{"filter": "datum.role === 'small_b'"}], "mark": {"type": "text", "align": "left", "baseline": "middle", "fontSize": 10.5, "fontWeight": "bold", "fill": "#111111"},
     "encoding": {"x": {"field": "x", "type": "quantitative", "scale": {"domain": [0, 678], "range": [0, 678], "nice": false, "zero": false}, "axis": null}, "y": {"field": "y", "type": "quantitative", "scale": {"domain": [0, 499], "range": [0, 499], "nice": false, "zero": false}, "axis": null}, "text": {"field": "text", "type": "nominal"}}},
    {"data": {"name": "texts"}, "transform": [{"filter": "datum.role === 'demod'"}], "mark": {"type": "text", "align": "right", "baseline": "middle", "fontSize": 12, "fontWeight": "bold", "fill": "#22a346", "stroke": "#0f6e2a", "strokeWidth": 0.4},
     "encoding": {"x": {"field": "x", "type": "quantitative", "scale": {"domain": [0, 678], "range": [0, 678], "nice": false, "zero": false}, "axis": null}, "y": {"field": "y", "type": "quantitative", "scale": {"domain": [0, 499], "range": [0, 499], "nice": false, "zero": false}, "axis": null}, "text": {"field": "text", "type": "nominal"}}},
    {"data": {"name": "texts"}, "transform": [{"filter": "datum.role === 'tl'"}], "mark": {"type": "text", "align": "left", "baseline": "middle", "fontSize": 11, "fontWeight": "bold", "font": "DejaVu Sans", "fill": "#137a30"},
     "encoding": {"x": {"field": "x", "type": "quantitative", "scale": {"domain": [0, 678], "range": [0, 678], "nice": false, "zero": false}, "axis": null}, "y": {"field": "y", "type": "quantitative", "scale": {"domain": [0, 499], "range": [0, 499], "nice": false, "zero": false}, "axis": null}, "text": {"field": "text", "type": "nominal"}}}
  ]
}
